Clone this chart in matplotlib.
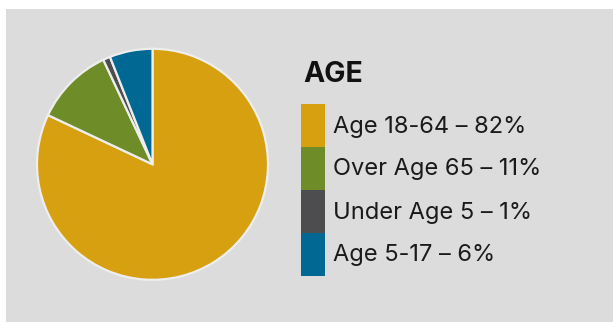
import matplotlib.pyplot as plt
from matplotlib.patches import Rectangle

# age breakdown
labels = ["Age 18-64", "Over Age 65", "Under Age 5", "Age 5-17"]
shares = [82, 11, 1, 6]
colors = ["#d6a010", "#6e8c28", "#4d4d4f", "#006892"]
title = "AGE"

W, H = 613, 322
fig = plt.figure(figsize=(W / 100, H / 100), dpi=100)
fig.patch.set_facecolor("white")

# gray panel behind everything
fig.add_artist(Rectangle((6 / W, 0), 1 - 6 / W, 1 - 9 / H, transform=fig.transFigure,
                         facecolor="#dcdcdc", edgecolor="none", zorder=0))

# pie: centre (152.5, 164) px, radius 115.5 px
cx, cy, r = 152.5, 164.3, 115.5
ax = fig.add_axes([(cx - r) / W, (H - cy - r) / H, 2 * r / W, 2 * r / H])
ax.pie(shares, colors=colors, startangle=90, counterclock=False, radius=1,
       wedgeprops=dict(edgecolor="#eeeeee", linewidth=1.6))
ax.set_xlim(-1, 1)
ax.set_ylim(-1, 1)
ax.set_aspect("equal")
ax.axis("off")

# legend block
fs = 17
fig.text(303 / W, 1 - 81.7 / H, title, fontsize=20.5, fontweight="bold",
         family="Inter", color="#111111", va="baseline")
top, step = 104, 43
for i, (lab, val, col) in enumerate(zip(labels, shares, colors)):
    y0 = top + i * step
    fig.add_artist(Rectangle((301 / W, 1 - (y0 + step) / H), 24 / W, step / H,
                             transform=fig.transFigure, facecolor=col,
                             edgecolor="none"))
    fig.text(333 / W, 1 - (y0 + 28.5) / H, f"{lab} \u2013 {val}%", fontsize=fs,
             family="Inter", color="#1a1a1a", va="baseline")

fig.savefig("out.png", dpi=100)
